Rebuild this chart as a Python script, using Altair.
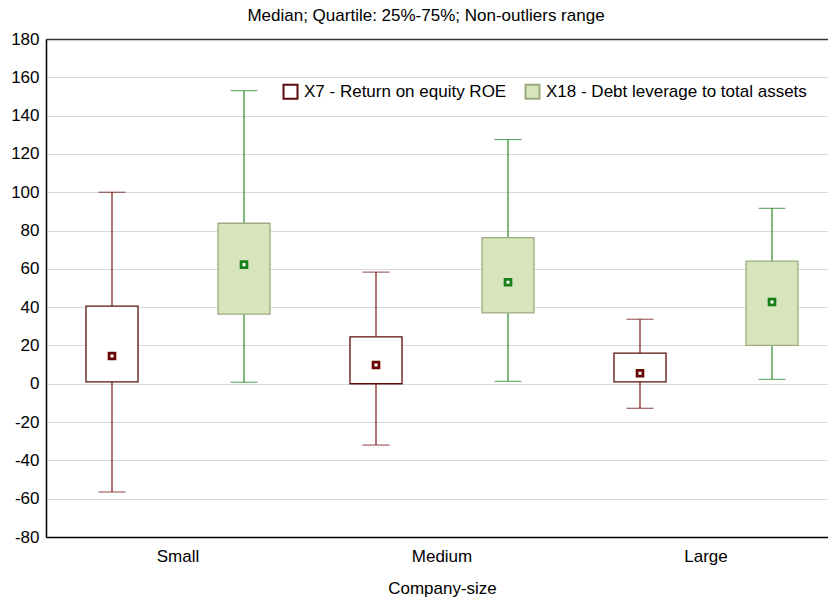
import altair as alt
import pandas as pd

categories = ["Small", "Medium", "Large"]
series = ["X7 - Return on equity ROE", "X18 - Debt leverage to total assets"]

x7_low = [-56.5, -32.0, -12.8]
x7_q1 = [1.0, 0.0, 1.0]
x7_median = [14.5, 9.8, 5.5]
x7_q3 = [40.5, 24.5, 16.0]
x7_high = [100.0, 58.3, 33.7]

x18_low = [0.8, 1.3, 2.3]
x18_q1 = [36.4, 37.0, 20.0]
x18_median = [62.2, 53.0, 42.7]
x18_q3 = [83.8, 76.3, 64.0]
x18_high = [153.0, 127.5, 91.6]

rows = []
for i, c in enumerate(categories):
    rows.append(dict(size=c, series=series[0], low=x7_low[i], q1=x7_q1[i],
                     median=x7_median[i], q3=x7_q3[i], high=x7_high[i]))
    rows.append(dict(size=c, series=series[1], low=x18_low[i], q1=x18_q1[i],
                     median=x18_median[i], q3=x18_q3[i], high=x18_high[i]))
df = pd.DataFrame(rows)

FONT = "Liberation Sans"
FS = 17

xscale = alt.Scale(domain=categories, range=[0, 792], paddingInner=0, paddingOuter=0)
xoff = alt.XOffset("series:N", sort=series,
                   scale=alt.Scale(domain=series, paddingInner=0, paddingOuter=0))

bottom_axis = alt.Axis(orient="bottom", labelFontSize=FS, labelFont=FONT, labelColor="black",
                       labelFontWeight="normal",
                       ticks=False, tickSize=0, labelPadding=11, domainColor="black",
                       domainWidth=1.5, grid=False, labelAngle=0,
                       titleFontSize=FS, titleFont=FONT, titleFontWeight="normal",
                       titleColor="black", titlePadding=16)
top_axis = alt.Axis(orient="top", labels=False, ticks=False, tickSize=0, domainColor="#333333",
                    domainWidth=1.5, grid=False, title=None)

x_bottom = alt.X("size:N", sort=categories, scale=xscale, axis=bottom_axis, title="Company-size")
x_top = alt.X("size:N", sort=categories, scale=xscale, axis=top_axis, title=None)

yscale = alt.Scale(domain=[-80, 180], nice=False, zero=False)
yaxis = alt.Axis(values=list(range(-80, 181, 20)), labelFontSize=FS, labelFont=FONT,
                 labelColor="black", ticks=False, tickSize=0, labelPadding=7,
                 labelExpr="replace(datum.label, '\u2212', '-')",
                 domainColor="black", domainWidth=1.5, grid=True, gridColor="#d9d9d9",
                 gridWidth=1)


def Y(field):
    return alt.Y(field, scale=yscale, axis=yaxis, title=None)


line_color = alt.Color("series:N", sort=series,
                       scale=alt.Scale(domain=series, range=["#6a0808", "#188018"]),
                       legend=None)

legend = alt.Legend(orient="none", legendX=236, legendY=44, direction="horizontal",
                    title=None, symbolType="square", symbolSize=196, symbolStrokeWidth=2,
                    labelFontSize=FS, labelFont=FONT, labelColor="black", labelOffset=5,
                    columnPadding=14, padding=0, labelLimit=400)

box_fill = alt.Fill("series:N", sort=series,
                    scale=alt.Scale(domain=series, range=["#ffffff", "#d8e4bc"]),
                    legend=legend, title=None)
box_stroke = alt.Stroke("series:N", sort=series,
                        scale=alt.Scale(domain=series, range=["#5e0c0c", "#9aab7e"]),
                        legend=legend, title=None)

base = alt.Chart(df)

whisker = base.mark_rule(strokeWidth=1.1).encode(
    x=x_top, xOffset=xoff, y=Y("low:Q"), y2="high:Q", color=line_color)

box = base.mark_bar(size=52, strokeWidth=1.3).encode(
    x=x_bottom, xOffset=xoff, y=Y("q1:Q"), y2="q3:Q", fill=box_fill, stroke=box_stroke)

cap_low = base.mark_tick(size=27, thickness=1.1).encode(
    x=x_bottom, xOffset=xoff, y=Y("low:Q"), color=line_color)
cap_high = base.mark_tick(size=27, thickness=1.1).encode(
    x=x_bottom, xOffset=xoff, y=Y("high:Q"), color=line_color)

median = base.mark_square(size=34, filled=False, fill="white", strokeWidth=2.8,
                          opacity=1).encode(
    x=x_bottom, xOffset=xoff, y=Y("median:Q"), color=line_color)

front = alt.layer(box, cap_low, cap_high, median).resolve_legend(
    color="independent", fill="independent", stroke="independent")
chart = alt.layer(whisker, front).resolve_axis(x="independent").resolve_legend(
    color="independent", fill="independent", stroke="independent")

chart = chart.properties(
    width=782, height=498,
    autosize=alt.AutoSizeParams(type="none"),
    padding={"left": 46, "top": 39, "right": 0, "bottom": 61},
    title=alt.TitleParams("Median; Quartile: 25%-75%; Non-outliers range", fontSize=FS,
                          font=FONT, fontWeight="normal", color="black", anchor="middle",
                          dx=-11, offset=5),
).configure_view(stroke=None).configure(background="white")

chart.save("out.html", embed_options={"renderer": "svg", "actions": False})
